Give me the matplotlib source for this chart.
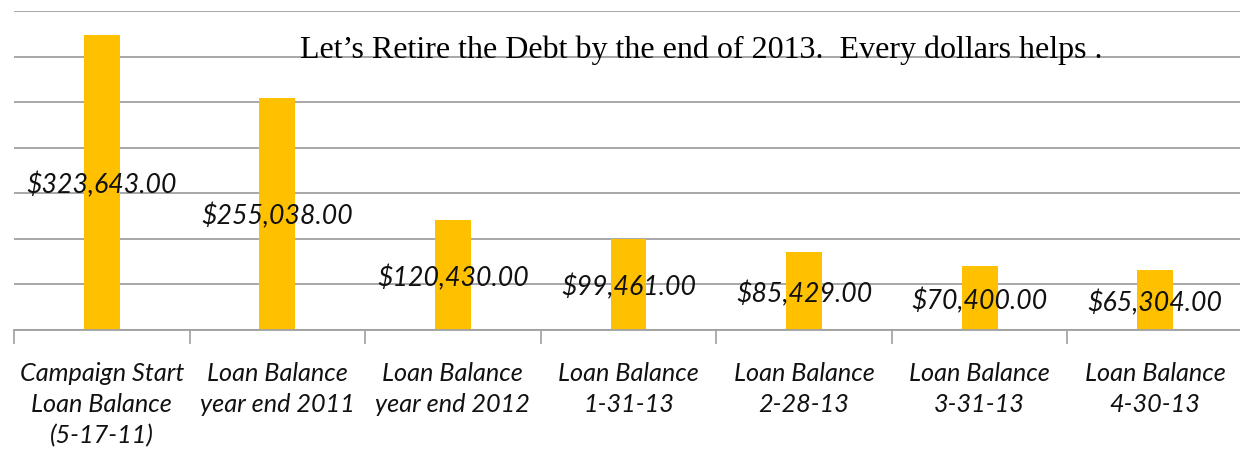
import numpy as np
import matplotlib.pyplot as plt

categories = ['Campaign Start\nLoan Balance\n(5-17-11)', 'Loan Balance\nyear end 2011',
              'Loan Balance\nyear end 2012', 'Loan Balance\n1-31-13', 'Loan Balance\n2-28-13',
              'Loan Balance\n3-31-13', 'Loan Balance\n4-30-13']
balances = [323643.00, 255038.00, 120430.00, 99461.00, 85429.00, 70400.00, 65304.00]
title = 'Let\u2019s Retire the Debt by the end of 2013.  Every dollars helps .'

fig = plt.figure(figsize=(12.4, 4.51), dpi=100)
ax = fig.add_axes([14/1240, 121/451, 1229/1240, 319/451])

x = np.arange(len(balances))
ax.bar(x, balances, width=0.205, color='#FFC000', zorder=2)

# value labels sit at the middle of each bar
for xi, v in zip(x, balances):
    ax.annotate('${:,.2f}'.format(v), (xi, v/2), xytext=(0, -2), textcoords='offset points',
                ha='center', va='center', fontsize=19.2, fontstyle='italic', family='Lato',
                color='#111111', zorder=3)

ax.set_ylim(0, 350000)
ax.set_xlim(-0.5, len(balances) - 0.5)
ax.set_yticks(np.arange(0, 350001, 50000))
ax.yaxis.grid(True, color='#a0a0a0', linewidth=1.3, zorder=0)
ax.tick_params(axis='y', left=False, labelleft=False)

ax.set_xticks(np.arange(-0.5, len(balances)), labels=[])
ax.tick_params(axis='x', which='major', length=10, color='#a0a0a0', width=1.2)
ax.set_xticks(x, labels=categories, minor=True)
ax.tick_params(axis='x', which='minor', length=0, pad=23)
for lab in ax.get_xticklabels(minor=True):
    lab.set_fontsize(18.2)
    lab.set_fontstyle('italic')
    lab.set_family('Lato')
    lab.set_linespacing(1.42)
    lab.set_color('#111111')

for s in ['top', 'right', 'left']:
    ax.spines[s].set_visible(False)
ax.spines['bottom'].set_color('#a0a0a0')
ax.spines['bottom'].set_linewidth(1.3)

fig.text(300/1240, 1 - 58/451, title, family='Liberation Serif', fontsize=23,
         ha='left', va='baseline', color='black')

fig.savefig('out.png', dpi=100)
